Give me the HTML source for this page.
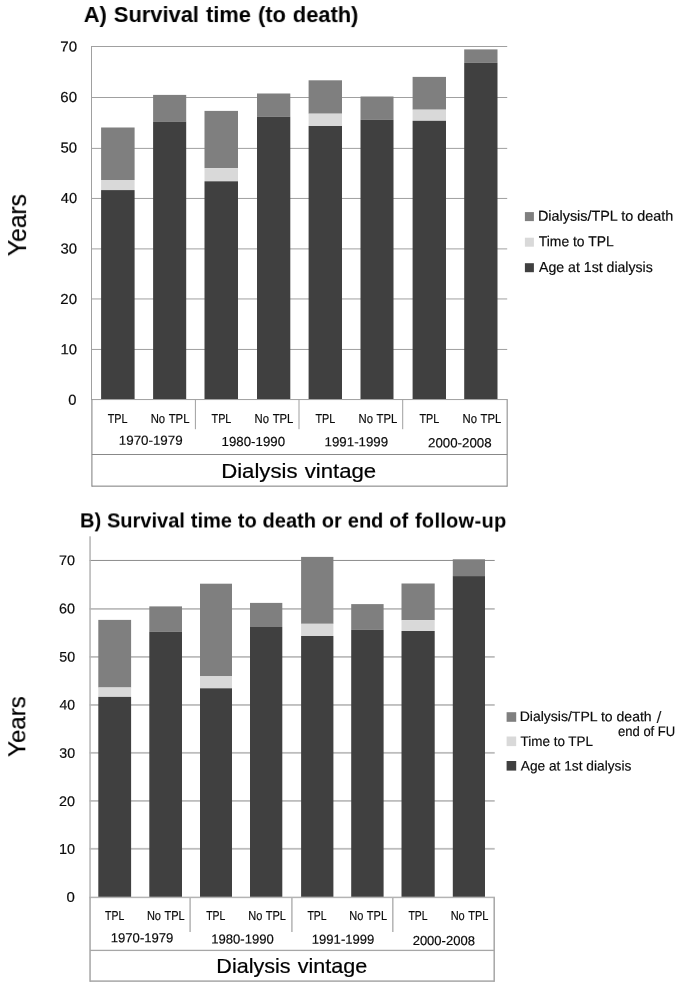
<!DOCTYPE html>
<html lang="en"><head><meta charset="utf-8"><title>Survival time by dialysis vintage</title>
<style>
html,body{margin:0;padding:0;background:#fff;}
body{width:685px;height:988px;overflow:hidden;}
svg{display:block;font-family:"Liberation Sans",Arial,Helvetica,sans-serif;}
svg text{white-space:pre;}
</style></head>
<body>
<svg width="685" height="988" viewBox="0 0 685 988">
<defs><filter id="soft" x="-2%" y="-2%" width="104%" height="104%" color-interpolation-filters="sRGB"><feGaussianBlur stdDeviation="0.25"/></filter></defs>
<rect width="685" height="988" fill="#fff"/>
<g id="chartA">
<g class="grid">
<rect x="91" y="348.95" width="416.2" height="1" fill="#a0a0a0"/>
<rect x="91" y="298.45" width="416.2" height="1" fill="#a0a0a0"/>
<rect x="91" y="248.4" width="416.2" height="1" fill="#a0a0a0"/>
<rect x="91" y="197.95" width="416.2" height="1" fill="#a0a0a0"/>
<rect x="91" y="147.9" width="416.2" height="1" fill="#a0a0a0"/>
<rect x="91" y="97" width="416.2" height="1" fill="#a0a0a0"/>
<rect x="91" y="46" width="416.2" height="1" fill="#a0a0a0"/>
</g>
<g class="bars">
<rect x="101.1" y="127.5" width="33.5" height="52.5" fill="#7f7f7f"/>
<rect x="101.1" y="180" width="33.5" height="10.1" fill="#d9d9d9"/>
<rect x="101.1" y="190.1" width="33.5" height="209.2" fill="#404040"/>
<rect x="153.1" y="94.9" width="33.1" height="26.7" fill="#7f7f7f"/>
<rect x="153.1" y="121.6" width="33.1" height="277.7" fill="#404040"/>
<rect x="204.5" y="110.9" width="33.5" height="57.2" fill="#7f7f7f"/>
<rect x="204.5" y="168.1" width="33.5" height="13.2" fill="#d9d9d9"/>
<rect x="204.5" y="181.3" width="33.5" height="218" fill="#404040"/>
<rect x="257" y="93.5" width="33.3" height="23.3" fill="#7f7f7f"/>
<rect x="257" y="116.8" width="33.3" height="282.5" fill="#404040"/>
<rect x="308.6" y="80.3" width="33.4" height="33.4" fill="#7f7f7f"/>
<rect x="308.6" y="113.7" width="33.4" height="12.3" fill="#d9d9d9"/>
<rect x="308.6" y="126" width="33.4" height="273.3" fill="#404040"/>
<rect x="360.5" y="96.5" width="33" height="23.3" fill="#7f7f7f"/>
<rect x="360.5" y="119.8" width="33" height="279.5" fill="#404040"/>
<rect x="412.6" y="76.9" width="33.4" height="32.8" fill="#7f7f7f"/>
<rect x="412.6" y="109.7" width="33.4" height="11.1" fill="#d9d9d9"/>
<rect x="412.6" y="120.8" width="33.4" height="278.5" fill="#404040"/>
<rect x="464.2" y="49.4" width="33.3" height="13.4" fill="#7f7f7f"/>
<rect x="464.2" y="62.8" width="33.3" height="336.5" fill="#404040"/>
</g>
<g class="axes">
<rect x="91" y="46" width="1" height="353.55" fill="#a0a0a0"/>
<rect x="91" y="399.05" width="416.7" height="1" fill="#a0a0a0"/>
<rect x="91.35" y="399.55" width="1.1" height="87.15" fill="#888888"/>
<rect x="506.55" y="399.5" width="1.3" height="87.2" fill="#a0a0a0"/>
<rect x="194.9" y="399.55" width="1" height="29.65" fill="#a0a0a0"/>
<rect x="298.5" y="399.55" width="1" height="29.65" fill="#a0a0a0"/>
<rect x="402.2" y="399.55" width="1" height="29.65" fill="#a0a0a0"/>
<rect x="91.9" y="454" width="415.3" height="1" fill="#888888"/>
<rect x="91.9" y="485.6" width="415.3" height="1.1" fill="#888888"/>
</g>
<g class="labels" filter="url(#soft)">
<text transform="matrix(1.0250 0.0005 0 1 68.36 404.85)" font-size="14.4" fill="#0a0a0a" stroke="#0a0a0a" stroke-width="0.18">0</text>
<text transform="matrix(1.0382 0.0005 0 1 60.45 354.37)" font-size="14.4" fill="#0a0a0a" stroke="#0a0a0a" stroke-width="0.18">10</text>
<text transform="matrix(1.0457 0.0005 0 1 60.34 303.89)" font-size="14.4" fill="#0a0a0a" stroke="#0a0a0a" stroke-width="0.18">20</text>
<text transform="matrix(1.0336 0.0005 0 1 60.52 253.41)" font-size="14.4" fill="#0a0a0a" stroke="#0a0a0a" stroke-width="0.18">30</text>
<text transform="matrix(1.0179 0.0005 0 1 60.77 202.93)" font-size="14.4" fill="#0a0a0a" stroke="#0a0a0a" stroke-width="0.18">40</text>
<text transform="matrix(1.0356 0.0005 0 1 60.49 152.45)" font-size="14.4" fill="#0a0a0a" stroke="#0a0a0a" stroke-width="0.18">50</text>
<text transform="matrix(1.0457 0.0005 0 1 60.34 101.97)" font-size="14.4" fill="#0a0a0a" stroke="#0a0a0a" stroke-width="0.18">60</text>
<text transform="matrix(1.0468 0.0005 0 1 60.32 51.49)" font-size="14.4" fill="#0a0a0a" stroke="#0a0a0a" stroke-width="0.18">70</text>
<text transform="matrix(0.8311 0.0005 0 1 107.63 422.9)" font-size="13" fill="#0a0a0a" stroke="#0a0a0a" stroke-width="0.18">TPL</text>
<text transform="matrix(0.8712 0.0005 0 1 150.67 422.9)" font-size="13" fill="#0a0a0a" word-spacing="0.71" stroke="#0a0a0a" stroke-width="0.18">No TPL</text>
<text transform="matrix(0.8311 0.0005 0 1 211.56 422.9)" font-size="13" fill="#0a0a0a" stroke="#0a0a0a" stroke-width="0.18">TPL</text>
<text transform="matrix(0.8712 0.0005 0 1 254.6 422.9)" font-size="13" fill="#0a0a0a" word-spacing="0.71" stroke="#0a0a0a" stroke-width="0.18">No TPL</text>
<text transform="matrix(0.8311 0.0005 0 1 315.48 422.9)" font-size="13" fill="#0a0a0a" stroke="#0a0a0a" stroke-width="0.18">TPL</text>
<text transform="matrix(0.8712 0.0005 0 1 358.52 422.9)" font-size="13" fill="#0a0a0a" word-spacing="0.71" stroke="#0a0a0a" stroke-width="0.18">No TPL</text>
<text transform="matrix(0.8311 0.0005 0 1 419.41 422.9)" font-size="13" fill="#0a0a0a" stroke="#0a0a0a" stroke-width="0.18">TPL</text>
<text transform="matrix(0.8712 0.0005 0 1 462.45 422.9)" font-size="13" fill="#0a0a0a" word-spacing="0.71" stroke="#0a0a0a" stroke-width="0.18">No TPL</text>
<text transform="matrix(1.0211 0.0005 0 1 118.77 444.7)" font-size="13.1" fill="#0a0a0a" stroke="#0a0a0a" stroke-width="0.18">1970-1979</text>
<text transform="matrix(1.0142 0.0005 0 1 221.58 445.9)" font-size="13.1" fill="#0a0a0a" stroke="#0a0a0a" stroke-width="0.18">1980-1990</text>
<text transform="matrix(1.0162 0.0005 0 1 324.58 446.2)" font-size="13.1" fill="#0a0a0a" stroke="#0a0a0a" stroke-width="0.18">1991-1999</text>
<text transform="matrix(1.0162 0.0005 0 1 428.02 447.3)" font-size="13.1" fill="#0a0a0a" stroke="#0a0a0a" stroke-width="0.18">2000-2008</text>
<text transform="matrix(1.1380 0.0005 0 1 221.17 477.9)" font-size="19.5" fill="#000" word-spacing="0.84" stroke="#000" stroke-width="0.2">Dialysis vintage</text>
<text transform="translate(26.1 256.24) rotate(-90) scale(0.9719 1)" font-size="25.4" fill="#000" stroke="#000" stroke-width="0.2">Years</text>
<text transform="matrix(1.0079 0.0005 0 1 83.78 22)" font-size="21.7" fill="#000" font-weight="bold" word-spacing="0.96">A) Survival time (to death)</text>
</g>
<g class="legend" filter="url(#soft)">
<rect x="524.9" y="212.1" width="9" height="9" fill="#7f7f7f"/>
<rect x="524.9" y="237.7" width="9" height="9" fill="#d9d9d9"/>
<rect x="524.9" y="263.2" width="9" height="9" fill="#404040"/>
<text transform="matrix(1.0000 0.0005 0 1 537.91 220.75)" font-size="14.4" fill="#0a0a0a" stroke="#0a0a0a" stroke-width="0.18">Dialysis/TPL to death</text>
<text transform="matrix(0.9653 0.0005 0 1 538.78 246.3)" font-size="14.4" fill="#0a0a0a" stroke="#0a0a0a" stroke-width="0.18">Time to TPL</text>
<text transform="matrix(0.9810 0.0005 0 1 539.06 271.9)" font-size="14.4" fill="#0a0a0a" stroke="#0a0a0a" stroke-width="0.18">Age at 1st dialysis</text>
</g>
</g>
<g id="chartB">
<g class="grid">
<rect x="89.55" y="847.9" width="405.15" height="1.8" fill="#bdbdbd"/>
<rect x="89.55" y="800" width="405.15" height="1.8" fill="#bdbdbd"/>
<rect x="89.55" y="751.95" width="405.15" height="1.8" fill="#bdbdbd"/>
<rect x="89.55" y="704.05" width="405.15" height="1.8" fill="#bdbdbd"/>
<rect x="89.55" y="656" width="405.15" height="1.8" fill="#bdbdbd"/>
<rect x="89.55" y="608" width="405.15" height="1.8" fill="#bdbdbd"/>
<rect x="89.55" y="559.95" width="405.15" height="1" fill="#8c8c8c"/>
</g>
<g class="bars">
<rect x="98.3" y="619.9" width="32.8" height="67.6" fill="#7f7f7f"/>
<rect x="98.3" y="687.5" width="32.8" height="9.4" fill="#d9d9d9"/>
<rect x="98.3" y="696.9" width="32.8" height="200.4" fill="#404040"/>
<rect x="149.3" y="606.4" width="32.7" height="25.4" fill="#7f7f7f"/>
<rect x="149.3" y="631.8" width="32.7" height="265.5" fill="#404040"/>
<rect x="200" y="583.7" width="32" height="92.6" fill="#7f7f7f"/>
<rect x="200" y="676.3" width="32" height="12" fill="#d9d9d9"/>
<rect x="200" y="688.3" width="32" height="209" fill="#404040"/>
<rect x="250" y="602.9" width="32.3" height="24.1" fill="#7f7f7f"/>
<rect x="250" y="627" width="32.3" height="270.3" fill="#404040"/>
<rect x="301.1" y="556.9" width="32.3" height="66.9" fill="#7f7f7f"/>
<rect x="301.1" y="623.8" width="32.3" height="12.2" fill="#d9d9d9"/>
<rect x="301.1" y="636" width="32.3" height="261.3" fill="#404040"/>
<rect x="351.2" y="604.1" width="32.4" height="25.7" fill="#7f7f7f"/>
<rect x="351.2" y="629.8" width="32.4" height="267.5" fill="#404040"/>
<rect x="401.5" y="583.5" width="33.2" height="36.7" fill="#7f7f7f"/>
<rect x="401.5" y="620.2" width="33.2" height="10.8" fill="#d9d9d9"/>
<rect x="401.5" y="631" width="33.2" height="266.3" fill="#404040"/>
<rect x="452.8" y="559.3" width="32.2" height="16.8" fill="#7f7f7f"/>
<rect x="452.8" y="576.1" width="32.2" height="321.2" fill="#404040"/>
</g>
<g class="axes">
<rect x="89.3" y="536.3" width="1.5" height="361.1" fill="#b4b4b4"/>
<rect x="89.3" y="896.65" width="405.65" height="1.5" fill="#b4b4b4"/>
<rect x="89.3" y="897.4" width="1.5" height="84.45" fill="#a6a6a6"/>
<rect x="493.45" y="897.5" width="1.5" height="84.35" fill="#a6a6a6"/>
<rect x="189.35" y="897.4" width="1.5" height="34.6" fill="#b4b4b4"/>
<rect x="291.15" y="897.4" width="1.5" height="34.6" fill="#b4b4b4"/>
<rect x="392.05" y="897.4" width="1.5" height="34.6" fill="#b4b4b4"/>
<rect x="90.05" y="949.75" width="404.15" height="1.3" fill="#a6a6a6"/>
<rect x="90.05" y="980.35" width="404.15" height="1.5" fill="#a6a6a6"/>
</g>
<g class="labels" filter="url(#soft)">
<text transform="matrix(1.0847 0.0005 0 1 66.51 902.4)" font-size="13.8" fill="#0a0a0a" stroke="#0a0a0a" stroke-width="0.18">0</text>
<text transform="matrix(1.0507 0.0005 0 1 58.94 854.2)" font-size="13.8" fill="#0a0a0a" stroke="#0a0a0a" stroke-width="0.18">10</text>
<text transform="matrix(1.0417 0.0005 0 1 59.07 806)" font-size="13.8" fill="#0a0a0a" stroke="#0a0a0a" stroke-width="0.18">20</text>
<text transform="matrix(1.0296 0.0005 0 1 59.25 757.8)" font-size="13.8" fill="#0a0a0a" stroke="#0a0a0a" stroke-width="0.18">30</text>
<text transform="matrix(1.0139 0.0005 0 1 59.48 709.6)" font-size="13.8" fill="#0a0a0a" stroke="#0a0a0a" stroke-width="0.18">40</text>
<text transform="matrix(1.0316 0.0005 0 1 59.22 661.4)" font-size="13.8" fill="#0a0a0a" stroke="#0a0a0a" stroke-width="0.18">50</text>
<text transform="matrix(1.0417 0.0005 0 1 59.07 613.2)" font-size="13.8" fill="#0a0a0a" stroke="#0a0a0a" stroke-width="0.18">60</text>
<text transform="matrix(1.0427 0.0005 0 1 59.06 565)" font-size="13.8" fill="#0a0a0a" stroke="#0a0a0a" stroke-width="0.18">70</text>
<text transform="matrix(0.8051 0.0005 0 1 105.11 920)" font-size="13" fill="#0a0a0a" stroke="#0a0a0a" stroke-width="0.18">TPL</text>
<text transform="matrix(0.8481 0.0005 0 1 146.88 920)" font-size="13" fill="#0a0a0a" word-spacing="0.72" stroke="#0a0a0a" stroke-width="0.18">No TPL</text>
<text transform="matrix(0.8051 0.0005 0 1 206.16 920)" font-size="13" fill="#0a0a0a" stroke="#0a0a0a" stroke-width="0.18">TPL</text>
<text transform="matrix(0.8481 0.0005 0 1 248.18 920)" font-size="13" fill="#0a0a0a" word-spacing="0.72" stroke="#0a0a0a" stroke-width="0.18">No TPL</text>
<text transform="matrix(0.8051 0.0005 0 1 307.41 920)" font-size="13" fill="#0a0a0a" stroke="#0a0a0a" stroke-width="0.18">TPL</text>
<text transform="matrix(0.8481 0.0005 0 1 349.28 920)" font-size="13" fill="#0a0a0a" word-spacing="0.72" stroke="#0a0a0a" stroke-width="0.18">No TPL</text>
<text transform="matrix(0.8051 0.0005 0 1 408.41 920)" font-size="13" fill="#0a0a0a" stroke="#0a0a0a" stroke-width="0.18">TPL</text>
<text transform="matrix(0.8481 0.0005 0 1 450.63 920)" font-size="13" fill="#0a0a0a" word-spacing="0.72" stroke="#0a0a0a" stroke-width="0.18">No TPL</text>
<text transform="matrix(1.0075 0.0005 0 1 110.79 942.2)" font-size="13" fill="#0a0a0a" stroke="#0a0a0a" stroke-width="0.18">1970-1979</text>
<text transform="matrix(1.0055 0.0005 0 1 211.3 943.5)" font-size="13" fill="#0a0a0a" stroke="#0a0a0a" stroke-width="0.18">1980-1990</text>
<text transform="matrix(1.0075 0.0005 0 1 311.79 943.8)" font-size="13" fill="#0a0a0a" stroke="#0a0a0a" stroke-width="0.18">1991-1999</text>
<text transform="matrix(1.0027 0.0005 0 1 412.64 945.1)" font-size="13" fill="#0a0a0a" stroke="#0a0a0a" stroke-width="0.18">2000-2008</text>
<text transform="matrix(1.0894 0.0005 0 1 216.35 972.7)" font-size="19.8" fill="#000" word-spacing="1.1" stroke="#000" stroke-width="0.2">Dialysis vintage</text>
<text transform="translate(25.3 757.03) rotate(-90) scale(0.9982 1)" font-size="24.2" fill="#000" stroke="#000" stroke-width="0.2">Years</text>
<text transform="matrix(0.9855 0.0005 0 1 80.07 527.4)" font-size="20.3" fill="#000" font-weight="bold" word-spacing="0.38">B) Survival time to death or end of <tspan dx="0.9" letter-spacing="0.3">follow-up</tspan></text>
</g>
<g class="legend" filter="url(#soft)">
<rect x="506.6" y="712.2" width="9.6" height="9.6" fill="#7f7f7f"/>
<rect x="506.6" y="736.5" width="9.6" height="9.6" fill="#d9d9d9"/>
<rect x="506.6" y="761" width="9.6" height="9.6" fill="#404040"/>
<text transform="matrix(1.0177 0.0005 0 1 519.64 721.1)" font-size="13.8" fill="#0a0a0a" stroke="#0a0a0a" stroke-width="0.18">Dialysis/TPL to death</text>
<text transform="matrix(1.1102 0.0005 0 1 656.5 722.6)" font-size="16.2" fill="#222">/</text>
<text transform="matrix(0.9449 0.0005 0 1 618.04 736)" font-size="13.8" fill="#0a0a0a" stroke="#0a0a0a" stroke-width="0.18">end of FU</text>
<text transform="matrix(0.9762 0.0005 0 1 520.49 746)" font-size="13.8" fill="#0a0a0a" stroke="#0a0a0a" stroke-width="0.18">Time to TPL</text>
<text transform="matrix(0.9948 0.0005 0 1 520.76 770.4)" font-size="13.8" fill="#0a0a0a" stroke="#0a0a0a" stroke-width="0.18">Age at 1st dialysis</text>
</g>
</g>
</svg>
</body></html>
